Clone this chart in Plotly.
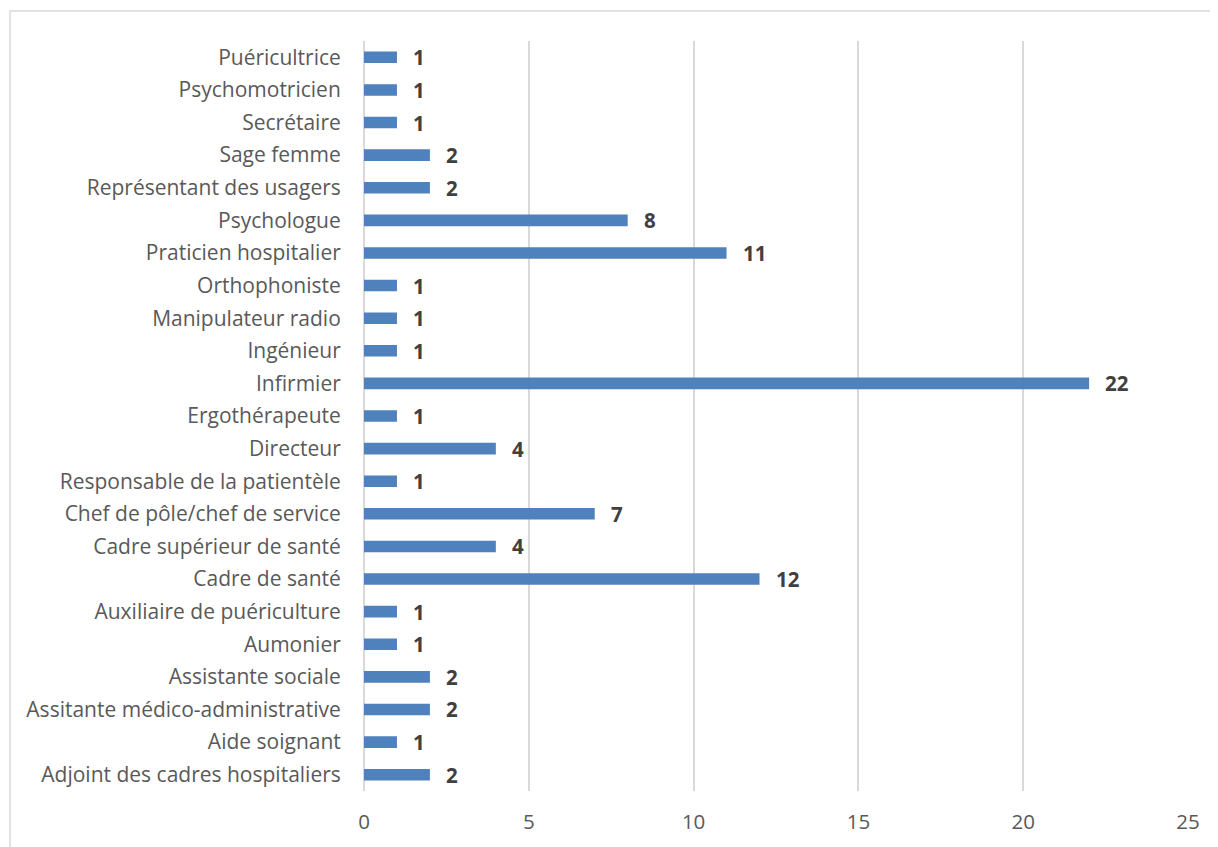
import plotly.graph_objects as go

categories = [
    "Adjoint des cadres hospitaliers", "Aide soignant", "Assitante médico-administrative",
    "Assistante sociale", "Aumonier", "Auxiliaire de puériculture", "Cadre de santé",
    "Cadre supérieur de santé", "Chef de pôle/chef de service", "Responsable de la patientèle",
    "Directeur", "Ergothérapeute", "Infirmier", "Ingénieur", "Manipulateur radio",
    "Orthophoniste", "Praticien hospitalier", "Psychologue", "Représentant des usagers",
    "Sage femme", "Secrétaire", "Psychomotricien", "Puéricultrice",
]
values = [2, 1, 2, 2, 1, 1, 12, 4, 7, 1, 4, 1, 22, 1, 1, 1, 11, 8, 2, 2, 1, 1, 1]
x_ticks = [0, 5, 10, 15, 20, 25]

FONT = "Open Sans, Liberation Sans, sans-serif"

fig = go.Figure(go.Bar(
    y=categories, x=values, orientation="h",
    marker=dict(color="#4f81bd", line=dict(width=0)),
    width=0.355,
))

annotations = [
    dict(x=v, y=c, xref="x", yref="y", text=f"<b>{v}</b>", showarrow=False,
         xanchor="left", xshift=14, font=dict(family=FONT, size=20.5, color="#404040"))
    for c, v in zip(categories, values)
]

# page has an 8px body margin, so the figure is sized to fit the 1218x847 window
W, H = 1210, 839
L, R, T, B = 356, 30, 33, 54
pw, ph = W - L - R, H - T - B

fig.update_layout(
    width=W, height=H,
    margin=dict(l=L, r=R, t=T, b=B),
    paper_bgcolor="white", plot_bgcolor="white",
    showlegend=False,
    annotations=annotations,
    font=dict(family=FONT, color="#595959"),
    xaxis=dict(range=[0, 25], tickvals=x_ticks, showgrid=True, gridcolor="#d9d9d9",
               gridwidth=1.5, zeroline=True, zerolinecolor="#d9d9d9", zerolinewidth=1.5,
               showline=False, ticks="outside", ticklen=12, tickcolor="rgba(0,0,0,0)",
               tickfont=dict(size=20.5, color="#595959")),
    yaxis=dict(categoryorder="array", categoryarray=categories, showgrid=False,
               zeroline=False, showline=False, ticks="outside", ticklen=18,
               tickcolor="rgba(0,0,0,0)", range=[-0.5, len(categories) - 0.5],
               tickfont=dict(size=21, color="#595959")),
    shapes=[dict(type="rect", xref="paper", yref="paper",
                 x0=(2 - L) / pw, x1=1.2, y0=-0.3, y1=(H - B - 3) / ph,
                 line=dict(color="#d9d9d9", width=1.5), layer="below")],
)

fig.write_html("out.html")
